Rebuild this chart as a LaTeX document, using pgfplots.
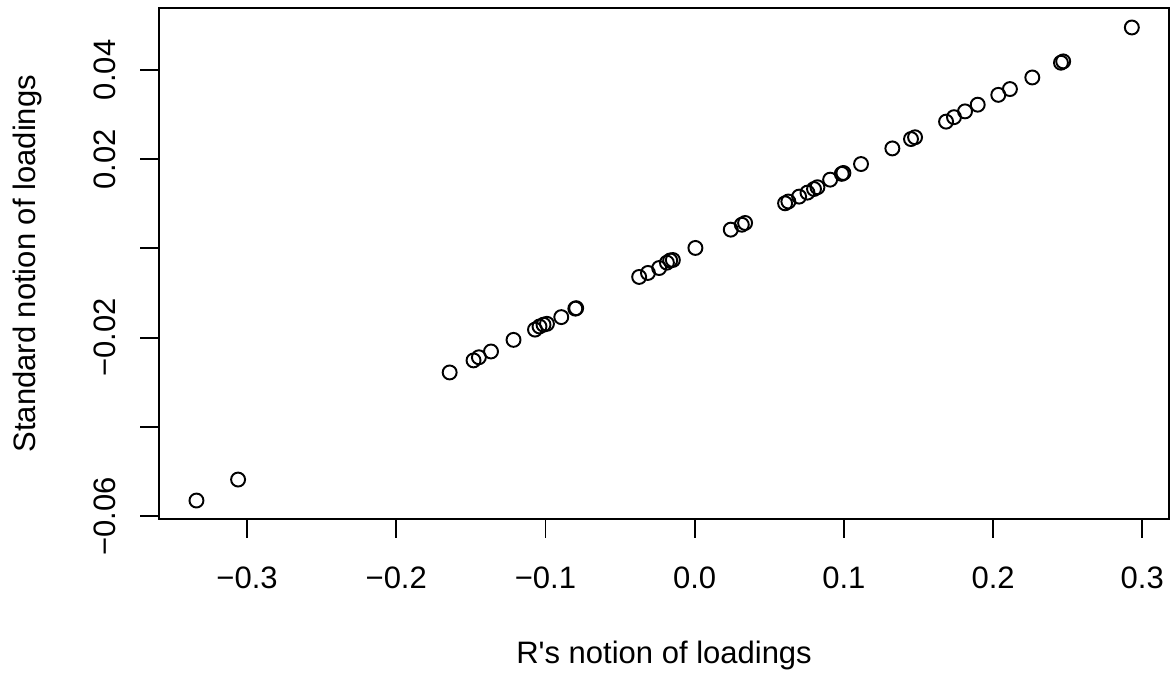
\documentclass[border=0pt]{standalone}
\usepackage{fontspec}
\setmainfont{Liberation Sans}[Ligatures=TeXOff]
\usepackage{pgfplots}
\pgfplotsset{compat=1.18}
\begin{document}
\begin{tikzpicture}
\useasboundingbox (-61.55pt,-61.8pt) rectangle (392.5pt,201pt);
\begin{axis}[
  at={(0,0)}, anchor=south west,
  scale only axis, width=391pt, height=197.8pt,
  xmin=-0.359, xmax=0.318, ymin=-0.0607, ymax=0.0538,
  scaled x ticks=false, scaled y ticks=false,
  axis line style={line width=0.7pt},
  every tick/.style={line width=0.7pt, black},
  tick align=outside, major tick length=7.2pt,
  xtick pos=bottom, ytick pos=left,
  xtick={-0.3,-0.2,-0.1,0,0.1,0.2,0.3},
  xticklabels={−0.3,−0.2,−0.1,0.0,0.1,0.2,0.3},
  ytick={-0.06,-0.04,-0.02,0,0.02,0.04},
  yticklabels={−0.06,,−0.02,,0.02,0.04},
  xticklabel style={font=\fontsize{12}{14}\selectfont, anchor=base, inner sep=0pt, yshift=-19.5pt},
  yticklabel style={font=\fontsize{12}{14}\selectfont, xshift=-9.8pt, rotate=90, anchor=base, inner sep=0pt},
  xlabel={R's notion of loadings},
  ylabel={Standard notion of loadings},
  xlabel style={font=\fontsize{12}{14}\selectfont, at={([yshift=-55.7pt]axis description cs:0.5,0)}, anchor=base, inner sep=0pt},
  ylabel style={font=\fontsize{12}{14}\selectfont, at={([xshift=-48pt]axis description cs:0,0.5)}, rotate=0, anchor=base, inner sep=0pt},
]
\addplot[only marks, mark=o, mark size=2.7pt, mark options={line width=0.75pt, black}] table {
x y
-0.3339 -0.0565
-0.3060 -0.0518
-0.1642 -0.0278
-0.1482 -0.0251
-0.1446 -0.0244
-0.1365 -0.0231
-0.1214 -0.0205
-0.1070 -0.0182
-0.1040 -0.0175
-0.1013 -0.0171
-0.0990 -0.0169
-0.0894 -0.0154
-0.0794 -0.0134
-0.0800 -0.0135
-0.0372 -0.0064
-0.0313 -0.0055
-0.0238 -0.0044
-0.0186 -0.0032
-0.0164 -0.0027
-0.0146 -0.0026
0.0005 0.0001
0.0242 0.0042
0.0316 0.0053
0.0338 0.0057
0.0606 0.0101
0.0628 0.0105
0.0700 0.0116
0.0756 0.0125
0.0800 0.0133
0.0823 0.0137
0.0908 0.0154
0.0986 0.0167
0.0997 0.0169
0.1115 0.0189
0.1325 0.0224
0.1450 0.0245
0.1477 0.0249
0.1685 0.0284
0.1738 0.0294
0.1812 0.0307
0.1897 0.0322
0.2035 0.0344
0.2113 0.0357
0.2263 0.0383
0.2455 0.0416
0.2470 0.0419
0.2930 0.0495
};
\end{axis}
\end{tikzpicture}
\end{document}
